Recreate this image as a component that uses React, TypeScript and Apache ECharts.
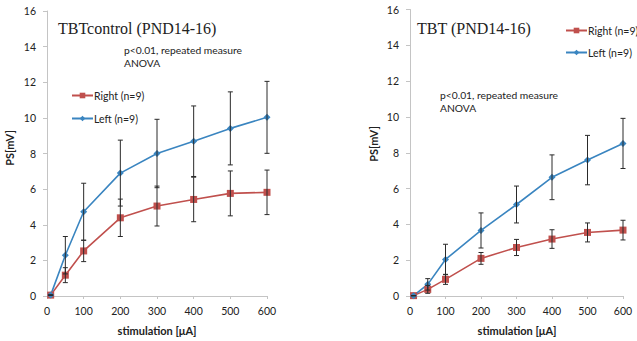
import React, { useEffect, useRef } from 'react';
import * as echarts from 'echarts';

const stimulation = [10, 50, 100, 200, 300, 400, 500, 600];
const ctrlRight = [0.05, 1.17, 2.53, 4.39, 5.05, 5.42, 5.76, 5.82];
const ctrlRightErr = [0, 0.42, 0.6, 1.05, 1.12, 1.25, 1.26, 1.25];
const ctrlLeft = [0.05, 2.29, 4.73, 6.9, 8.0, 8.69, 9.41, 10.03];
const ctrlLeftErr = [0, 1.05, 1.6, 1.85, 1.92, 1.98, 2.05, 2.02];
const tbtRight = [0.02, 0.37, 0.93, 2.1, 2.71, 3.18, 3.55, 3.68];
const tbtRightErr = [0, 0.22, 0.28, 0.33, 0.45, 0.52, 0.53, 0.55];
const tbtLeft = [0.02, 0.65, 2.04, 3.66, 5.11, 6.63, 7.59, 8.52];
const tbtLeftErr = [0, 0.32, 0.85, 0.98, 1.03, 1.25, 1.38, 1.4];

const yTicks = [0, 2, 4, 6, 8, 10, 12, 14, 16];
const xTicks = [0, 100, 200, 300, 400, 500, 600];

const RED = '#C0504D';
const BLUE = '#3A85C0';
const SANS = 'Lato';

const pairs = (ys: number[]) => stimulation.map((x, i) => [x, ys[i]]);
const errs = (ys: number[], e: number[]) => stimulation.map((x, i) => [x, ys[i] - e[i], ys[i] + e[i]]);

const errRender = (params: any, api: any) => {
  const x = api.value(0);
  const a = api.coord([x, api.value(1)]);
  const b = api.coord([x, api.value(2)]);
  const w = 2.5;
  const style = { stroke: '#2a2a2a', lineWidth: 1 };
  return {
    type: 'group',
    children: [
      { type: 'line', shape: { x1: a[0], y1: a[1], x2: b[0], y2: b[1] }, style },
      { type: 'line', shape: { x1: a[0] - w, y1: a[1], x2: a[0] + w, y2: a[1] }, style },
      { type: 'line', shape: { x1: b[0] - w, y1: b[1], x2: b[0] + w, y2: b[1] }, style },
    ],
  };
};

const axisCommonX = (gridIndex: number) => ({
  type: 'value',
  gridIndex,
  min: xTicks[0],
  max: xTicks[xTicks.length - 1],
  interval: 100,
  axisLine: { show: true, onZero: false, lineStyle: { color: '#c4c4c4', width: 1 } },
  axisTick: { show: true, length: 3, lineStyle: { color: '#c4c4c4' } },
  splitLine: { show: false },
  axisLabel: { fontFamily: SANS, fontSize: 10.5, color: '#222', margin: 9 },
});

const axisCommonY = (gridIndex: number) => ({
  type: 'value',
  gridIndex,
  min: yTicks[0],
  max: yTicks[yTicks.length - 1],
  interval: 2,
  axisLine: { show: true, onZero: false, lineStyle: { color: '#c4c4c4', width: 1 } },
  axisTick: { show: true, length: 4, lineStyle: { color: '#c4c4c4' } },
  splitLine: { show: false },
  axisLabel: { fontFamily: SANS, fontSize: 10.5, color: '#222', margin: 11 },
});

const lineSeries = (name: string, data: number[], color: string, symbol: string, size: number, idx: number) => ({
  type: 'line',
  name,
  xAxisIndex: idx,
  yAxisIndex: idx,
  data: pairs(data),
  symbol,
  symbolSize: size,
  showSymbol: true,
  lineStyle: { color, width: 1.6 },
  itemStyle: { color, borderWidth: 0 },
  z: 3,
});

const errSeries = (data: number[], e: number[], idx: number) => ({
  type: 'custom',
  xAxisIndex: idx,
  yAxisIndex: idx,
  renderItem: errRender,
  data: errs(data, e),
  encode: { x: 0, y: [1, 2] },
  silent: true,
  z: 4,
});

const legendCommon = {
  orient: 'vertical',
  itemWidth: 21,
  itemHeight: 7,
  itemGap: 12,
  padding: 0,
  data: ['Right (n=9)', 'Left (n=9)'],
  textStyle: { fontFamily: SANS, fontSize: 10.5, color: '#222', padding: [0, 0, 0, -4] },
};

export default function App() {
  const ref = useRef<HTMLDivElement>(null);
  useEffect(() => {
    if (!ref.current) return;
    const chart = echarts.init(ref.current, undefined, { renderer: 'svg' });
    chart.setOption({
      animation: false,
      backgroundColor: '#ffffff',
      grid: [
        { left: 47, top: 11, width: 220, height: 285 },
        { left: 410, top: 9.5, width: 213, height: 286.5 },
      ],
      xAxis: [axisCommonX(0), axisCommonX(1)],
      yAxis: [axisCommonY(0), axisCommonY(1)],
      legend: [
        { ...legendCommon, left: 71, top: 90 },
        { ...legendCommon, left: 565, top: 25, itemGap: 11 },
      ],
      series: [
        lineSeries('Right (n=9)', ctrlRight, RED, 'rect', 7, 0),
        lineSeries('Left (n=9)', ctrlLeft, BLUE, 'diamond', 7, 0),
        errSeries(ctrlRight, ctrlRightErr, 0),
        errSeries(ctrlLeft, ctrlLeftErr, 0),
        lineSeries('Right (n=9)', tbtRight, RED, 'rect', 7, 1),
        lineSeries('Left (n=9)', tbtLeft, BLUE, 'diamond', 7, 1),
        errSeries(tbtRight, tbtRightErr, 1),
        errSeries(tbtLeft, tbtLeftErr, 1),
      ],
      graphic: [
        { type: 'text', x: 58, y: 28.5, style: { text: 'TBTcontrol (PND14-16)', fontFamily: 'Liberation Serif', fontSize: 16, fill: '#222', verticalAlign: 'middle' } },
        { type: 'text', x: 417, y: 28.5, style: { text: 'TBT (PND14-16)', fontFamily: 'Liberation Serif', fontSize: 16, fill: '#222', verticalAlign: 'middle' } },
        { type: 'text', x: 124, y: 44, style: { text: 'p<0.01, repeated measure\nANOVA', fontFamily: SANS, fontSize: 10.3, lineHeight: 12.7, fill: '#222' } },
        { type: 'text', x: 440, y: 88, style: { text: 'p<0.01, repeated measure\nANOVA', fontFamily: SANS, fontSize: 10.3, lineHeight: 13, fill: '#222' } },
        { type: 'text', x: 157, y: 330, style: { text: 'stimulation [μA]', fontFamily: SANS, fontSize: 11, fontWeight: 'bold', fill: '#222', align: 'center', verticalAlign: 'middle' } },
        { type: 'text', x: 517, y: 330, style: { text: 'stimulation [μA]', fontFamily: SANS, fontSize: 11, fontWeight: 'bold', fill: '#222', align: 'center', verticalAlign: 'middle' } },
        { type: 'text', x: 9, y: 148, rotation: Math.PI / 2, style: { text: 'PS[mV]', fontFamily: SANS, fontSize: 11, fontWeight: 'bold', fill: '#222', align: 'center', verticalAlign: 'middle' } },
        { type: 'text', x: 373, y: 144, rotation: Math.PI / 2, style: { text: 'PS[mV]', fontFamily: SANS, fontSize: 11, fontWeight: 'bold', fill: '#222', align: 'center', verticalAlign: 'middle' } },
      ],
    });
    return () => chart.dispose();
  }, []);
  return (
    <div
      ref={ref}
      style={{ position: 'fixed', left: 0, top: 0, width: 637, height: 341, background: '#fff' }}
    />
  );
}
